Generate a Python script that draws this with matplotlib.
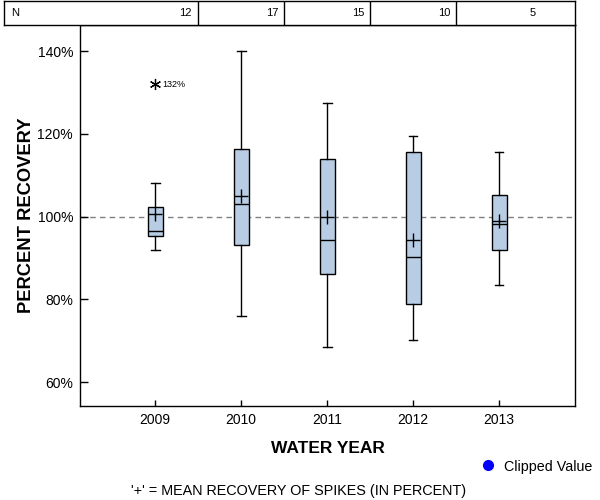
import matplotlib
matplotlib.use("Agg")
import matplotlib.pyplot as plt
from matplotlib.lines import Line2D

plt.rcParams['font.family'] = ['Liberation Sans', 'DejaVu Sans']

years = ['2009', '2010', '2011', '2012', '2013']
n_counts = [12, 17, 15, 10, 5]
whisker_lo = [91.8, 76.0, 68.5, 70.2, 83.5]
q1 = [95.2, 93.0, 86.2, 78.9, 91.8]
median = [96.6, 103.1, 94.2, 90.3, 98.1]
q3 = [102.2, 116.2, 113.8, 115.7, 105.1]
whisker_hi = [108.2, 140.0, 127.4, 119.4, 115.5]
means = [100.7, 105.0, 99.8, 94.4, 98.8]
outlier_year = ['2009']
outlier_val = [132.0]
outlier_lbl = ['132%']
yticks = [60, 80, 100, 120, 140]

W, H = 600, 500
fig = plt.figure(figsize=(6, 5), dpi=100)

# pixel layout
ax_l, ax_r, ax_t, ax_b = 80, 575, 25, 406
ax = fig.add_axes([ax_l / W, 1 - ax_b / H, (ax_r - ax_l) / W, (ax_b - ax_t) / H])

pos = list(range(1, len(years) + 1))
ppu = 86.0  # px per category
x0 = 1 - (155 - ax_l) / ppu
x1 = 5 + (ax_r - 499) / ppu
ax.set_xlim(x0, x1)
ppy = (382 - 51) / 80.0
ax.set_ylim(60 - (ax_b - 382) / ppy, 140 + (51 - ax_t) / ppy)

stats = []
for i in range(len(years)):
    stats.append(dict(med=median[i], q1=q1[i], q3=q3[i], whislo=whisker_lo[i],
                      whishi=whisker_hi[i], mean=means[i], fliers=[], label=years[i]))

ax.axhline(100, color='#808080', lw=1.0, ls=(0, (4, 3)), zorder=1)

ax.bxp(stats, positions=pos, widths=15 / ppu, patch_artist=True, showmeans=False,
       showfliers=False,
       boxprops=dict(facecolor='#b8cce4', edgecolor='black', linewidth=1.0),
       medianprops=dict(color='black', linewidth=1.0),
       whiskerprops=dict(color='black', linewidth=1.0),
       capprops=dict(color='black', linewidth=1.0),
       capwidths=9 / ppu, zorder=3)
ax.plot(pos, means, linestyle='none', marker='+', markersize=10, color='black',
        markeredgewidth=1.0, zorder=4)

for yr, v, lb in zip(outlier_year, outlier_val, outlier_lbl):
    xi = years.index(yr) + 1
    ax.plot([xi], [v], linestyle='none', marker=(6, 2, 0), markersize=8,
            color='black', markeredgewidth=0.9, zorder=4)
    ax.annotate(lb, (xi, v), xytext=(5.5, 0), textcoords='offset points',
                fontsize=6.5, va='center', ha='left')

ax.set_xticks(pos)
ax.set_xticklabels(years, fontsize=10)
ax.set_yticks(yticks)
ax.set_yticklabels([f'{t}%' for t in yticks], fontsize=10)
ax.tick_params(axis='y', direction='in', length=6, width=1, pad=5)
ax.tick_params(axis='x', direction='in', length=4, width=1, pad=5)
for s in ax.spines.values():
    s.set_linewidth(1.0)

ax.set_xlabel('WATER YEAR', fontsize=12.5, fontweight='bold', labelpad=10)
ax.set_ylabel('PERCENT RECOVERY', fontsize=13.2, fontweight='bold', labelpad=2)

# N table
tb_l, tb_t = 4, 1
axt = fig.add_axes([tb_l / W, 1 - ax_t / H, (ax_r - tb_l) / W, (ax_t - tb_t) / H])
axt.set_xlim(1 - (155 - tb_l) / ppu, x1)
axt.set_ylim(0, 1)
axt.set_xticks([])
axt.set_yticks([])
for s in axt.spines.values():
    s.set_linewidth(1.0)
for p in pos[:-1]:
    axt.axvline(p + 0.5, color='black', lw=1.0)
axt.text(0.012, 0.5, 'N', transform=axt.transAxes, fontsize=8, va='center', ha='left')
for p, n in zip(pos, n_counts):
    axt.text(p + 0.5 - 6 / ppu, 0.5, str(n), fontsize=8, va='center', ha='right')

# legend
fig.add_artist(Line2D([488 / W], [1 - 465 / H], marker='o', color='blue',
                      markersize=7, linestyle='none', transform=fig.transFigure))
fig.text(504 / W, 1 - 467 / H, 'Clipped Value', fontsize=10.3, va='center', ha='left')

fig.text(299 / W, 1 - 491 / H, "'+' = MEAN RECOVERY OF SPIKES (IN PERCENT)",
         fontsize=10.4, va='center', ha='center')

fig.savefig('out.png', dpi=100)
